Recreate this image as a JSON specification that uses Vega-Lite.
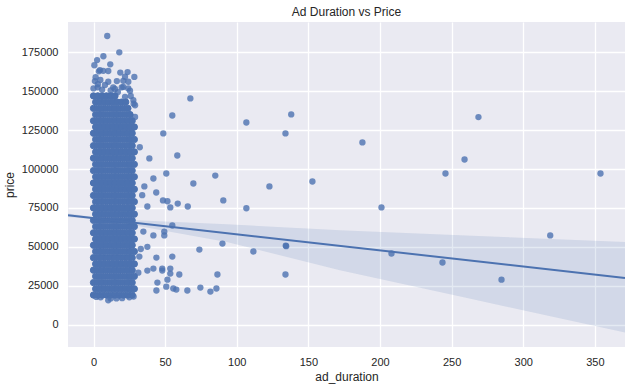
{
"$schema": "https://vega.github.io/schema/vega-lite/v6.json",
"autosize": {"type": "none"},
"padding": {"left": 68, "top": 22, "right": 13, "bottom": 41},
"width": 557,
"height": 325,
"background": "white",
"title": {"text": "Ad Duration vs Price", "fontSize": 12, "font": "Liberation Sans", "fontWeight": "normal", "color": "#262626", "anchor": "middle", "offset": 3},
"config": {
  "view": {"fill": "#EAEAF2", "stroke": null},
  "axis": {"grid": true, "gridColor": "#FFFFFF", "gridWidth": 1.3, "domain": false, "ticks": false, "labelFont": "Liberation Sans", "labelFontSize": 11, "labelColor": "#262626", "titleFont": "Liberation Sans", "titleFontSize": 12, "titleFontWeight": "normal", "titleColor": "#262626"}
},
"datasets": {
  "blob": [
{"ad_duration":0,"price":19000},{"ad_duration":3,"price":19000},{"ad_duration":6,"price":19000},{"ad_duration":9,"price":19000},{"ad_duration":12,"price":19000},{"ad_duration":15,"price":19000},{"ad_duration":18,"price":19000},{"ad_duration":21,"price":19000},{"ad_duration":24,"price":19000},{"ad_duration":27,"price":19000},
{"ad_duration":1.5,"price":23000},{"ad_duration":4.5,"price":23000},{"ad_duration":7.5,"price":23000},{"ad_duration":10.5,"price":23000},{"ad_duration":13.5,"price":23000},{"ad_duration":16.5,"price":23000},{"ad_duration":19.5,"price":23000},{"ad_duration":22.5,"price":23000},{"ad_duration":25.5,"price":23000},{"ad_duration":28.5,"price":23000},
{"ad_duration":0,"price":27000},{"ad_duration":3,"price":27000},{"ad_duration":6,"price":27000},{"ad_duration":9,"price":27000},{"ad_duration":12,"price":27000},{"ad_duration":15,"price":27000},{"ad_duration":18,"price":27000},{"ad_duration":21,"price":27000},{"ad_duration":24,"price":27000},{"ad_duration":27,"price":27000},
{"ad_duration":1.5,"price":31000},{"ad_duration":4.5,"price":31000},{"ad_duration":7.5,"price":31000},{"ad_duration":10.5,"price":31000},{"ad_duration":13.5,"price":31000},{"ad_duration":16.5,"price":31000},{"ad_duration":19.5,"price":31000},{"ad_duration":22.5,"price":31000},{"ad_duration":25.5,"price":31000},{"ad_duration":28.5,"price":31000},
{"ad_duration":0,"price":35000},{"ad_duration":3,"price":35000},{"ad_duration":6,"price":35000},{"ad_duration":9,"price":35000},{"ad_duration":12,"price":35000},{"ad_duration":15,"price":35000},{"ad_duration":18,"price":35000},{"ad_duration":21,"price":35000},{"ad_duration":24,"price":35000},{"ad_duration":27,"price":35000},
{"ad_duration":1.5,"price":39000},{"ad_duration":4.5,"price":39000},{"ad_duration":7.5,"price":39000},{"ad_duration":10.5,"price":39000},{"ad_duration":13.5,"price":39000},{"ad_duration":16.5,"price":39000},{"ad_duration":19.5,"price":39000},{"ad_duration":22.5,"price":39000},{"ad_duration":25.5,"price":39000},{"ad_duration":28.5,"price":39000},
{"ad_duration":0,"price":43000},{"ad_duration":3,"price":43000},{"ad_duration":6,"price":43000},{"ad_duration":9,"price":43000},{"ad_duration":12,"price":43000},{"ad_duration":15,"price":43000},{"ad_duration":18,"price":43000},{"ad_duration":21,"price":43000},{"ad_duration":24,"price":43000},{"ad_duration":27,"price":43000},
{"ad_duration":1.5,"price":47000},{"ad_duration":4.5,"price":47000},{"ad_duration":7.5,"price":47000},{"ad_duration":10.5,"price":47000},{"ad_duration":13.5,"price":47000},{"ad_duration":16.5,"price":47000},{"ad_duration":19.5,"price":47000},{"ad_duration":22.5,"price":47000},{"ad_duration":25.5,"price":47000},{"ad_duration":28.5,"price":47000},
{"ad_duration":0,"price":51000},{"ad_duration":3,"price":51000},{"ad_duration":6,"price":51000},{"ad_duration":9,"price":51000},{"ad_duration":12,"price":51000},{"ad_duration":15,"price":51000},{"ad_duration":18,"price":51000},{"ad_duration":21,"price":51000},{"ad_duration":24,"price":51000},{"ad_duration":27,"price":51000},
{"ad_duration":1.5,"price":55000},{"ad_duration":4.5,"price":55000},{"ad_duration":7.5,"price":55000},{"ad_duration":10.5,"price":55000},{"ad_duration":13.5,"price":55000},{"ad_duration":16.5,"price":55000},{"ad_duration":19.5,"price":55000},{"ad_duration":22.5,"price":55000},{"ad_duration":25.5,"price":55000},{"ad_duration":28.5,"price":55000},
{"ad_duration":0,"price":59000},{"ad_duration":3,"price":59000},{"ad_duration":6,"price":59000},{"ad_duration":9,"price":59000},{"ad_duration":12,"price":59000},{"ad_duration":15,"price":59000},{"ad_duration":18,"price":59000},{"ad_duration":21,"price":59000},{"ad_duration":24,"price":59000},{"ad_duration":27,"price":59000},
{"ad_duration":1.5,"price":63000},{"ad_duration":4.5,"price":63000},{"ad_duration":7.5,"price":63000},{"ad_duration":10.5,"price":63000},{"ad_duration":13.5,"price":63000},{"ad_duration":16.5,"price":63000},{"ad_duration":19.5,"price":63000},{"ad_duration":22.5,"price":63000},{"ad_duration":25.5,"price":63000},{"ad_duration":28.5,"price":63000},
{"ad_duration":0,"price":67000},{"ad_duration":3,"price":67000},{"ad_duration":6,"price":67000},{"ad_duration":9,"price":67000},{"ad_duration":12,"price":67000},{"ad_duration":15,"price":67000},{"ad_duration":18,"price":67000},{"ad_duration":21,"price":67000},{"ad_duration":24,"price":67000},{"ad_duration":27,"price":67000},
{"ad_duration":1.5,"price":71000},{"ad_duration":4.5,"price":71000},{"ad_duration":7.5,"price":71000},{"ad_duration":10.5,"price":71000},{"ad_duration":13.5,"price":71000},{"ad_duration":16.5,"price":71000},{"ad_duration":19.5,"price":71000},{"ad_duration":22.5,"price":71000},{"ad_duration":25.5,"price":71000},{"ad_duration":28.5,"price":71000},
{"ad_duration":0,"price":75000},{"ad_duration":3,"price":75000},{"ad_duration":6,"price":75000},{"ad_duration":9,"price":75000},{"ad_duration":12,"price":75000},{"ad_duration":15,"price":75000},{"ad_duration":18,"price":75000},{"ad_duration":21,"price":75000},{"ad_duration":24,"price":75000},{"ad_duration":27,"price":75000},
{"ad_duration":1.5,"price":79000},{"ad_duration":4.5,"price":79000},{"ad_duration":7.5,"price":79000},{"ad_duration":10.5,"price":79000},{"ad_duration":13.5,"price":79000},{"ad_duration":16.5,"price":79000},{"ad_duration":19.5,"price":79000},{"ad_duration":22.5,"price":79000},{"ad_duration":25.5,"price":79000},{"ad_duration":28.5,"price":79000},
{"ad_duration":0,"price":83000},{"ad_duration":3,"price":83000},{"ad_duration":6,"price":83000},{"ad_duration":9,"price":83000},{"ad_duration":12,"price":83000},{"ad_duration":15,"price":83000},{"ad_duration":18,"price":83000},{"ad_duration":21,"price":83000},{"ad_duration":24,"price":83000},{"ad_duration":27,"price":83000},
{"ad_duration":1.5,"price":87000},{"ad_duration":4.5,"price":87000},{"ad_duration":7.5,"price":87000},{"ad_duration":10.5,"price":87000},{"ad_duration":13.5,"price":87000},{"ad_duration":16.5,"price":87000},{"ad_duration":19.5,"price":87000},{"ad_duration":22.5,"price":87000},{"ad_duration":25.5,"price":87000},{"ad_duration":28.5,"price":87000},
{"ad_duration":0,"price":91000},{"ad_duration":3,"price":91000},{"ad_duration":6,"price":91000},{"ad_duration":9,"price":91000},{"ad_duration":12,"price":91000},{"ad_duration":15,"price":91000},{"ad_duration":18,"price":91000},{"ad_duration":21,"price":91000},{"ad_duration":24,"price":91000},{"ad_duration":27,"price":91000},
{"ad_duration":1.5,"price":95000},{"ad_duration":4.5,"price":95000},{"ad_duration":7.5,"price":95000},{"ad_duration":10.5,"price":95000},{"ad_duration":13.5,"price":95000},{"ad_duration":16.5,"price":95000},{"ad_duration":19.5,"price":95000},{"ad_duration":22.5,"price":95000},{"ad_duration":25.5,"price":95000},{"ad_duration":28.5,"price":95000},
{"ad_duration":0,"price":99000},{"ad_duration":3,"price":99000},{"ad_duration":6,"price":99000},{"ad_duration":9,"price":99000},{"ad_duration":12,"price":99000},{"ad_duration":15,"price":99000},{"ad_duration":18,"price":99000},{"ad_duration":21,"price":99000},{"ad_duration":24,"price":99000},{"ad_duration":27,"price":99000},
{"ad_duration":1.5,"price":103000},{"ad_duration":4.5,"price":103000},{"ad_duration":7.5,"price":103000},{"ad_duration":10.5,"price":103000},{"ad_duration":13.5,"price":103000},{"ad_duration":16.5,"price":103000},{"ad_duration":19.5,"price":103000},{"ad_duration":22.5,"price":103000},{"ad_duration":25.5,"price":103000},{"ad_duration":28.5,"price":103000},
{"ad_duration":0,"price":107000},{"ad_duration":3,"price":107000},{"ad_duration":6,"price":107000},{"ad_duration":9,"price":107000},{"ad_duration":12,"price":107000},{"ad_duration":15,"price":107000},{"ad_duration":18,"price":107000},{"ad_duration":21,"price":107000},{"ad_duration":24,"price":107000},{"ad_duration":27,"price":107000},
{"ad_duration":1.5,"price":111000},{"ad_duration":4.5,"price":111000},{"ad_duration":7.5,"price":111000},{"ad_duration":10.5,"price":111000},{"ad_duration":13.5,"price":111000},{"ad_duration":16.5,"price":111000},{"ad_duration":19.5,"price":111000},{"ad_duration":22.5,"price":111000},{"ad_duration":25.5,"price":111000},{"ad_duration":28.5,"price":111000},
{"ad_duration":0,"price":115000},{"ad_duration":3,"price":115000},{"ad_duration":6,"price":115000},{"ad_duration":9,"price":115000},{"ad_duration":12,"price":115000},{"ad_duration":15,"price":115000},{"ad_duration":18,"price":115000},{"ad_duration":21,"price":115000},{"ad_duration":24,"price":115000},{"ad_duration":27,"price":115000},
{"ad_duration":1.5,"price":119000},{"ad_duration":4.5,"price":119000},{"ad_duration":7.5,"price":119000},{"ad_duration":10.5,"price":119000},{"ad_duration":13.5,"price":119000},{"ad_duration":16.5,"price":119000},{"ad_duration":19.5,"price":119000},{"ad_duration":22.5,"price":119000},{"ad_duration":25.5,"price":119000},{"ad_duration":28.5,"price":119000},
{"ad_duration":0,"price":123000},{"ad_duration":3,"price":123000},{"ad_duration":6,"price":123000},{"ad_duration":9,"price":123000},{"ad_duration":12,"price":123000},{"ad_duration":15,"price":123000},{"ad_duration":18,"price":123000},{"ad_duration":21,"price":123000},{"ad_duration":24,"price":123000},{"ad_duration":27,"price":123000},
{"ad_duration":1.5,"price":127000},{"ad_duration":4.5,"price":127000},{"ad_duration":7.5,"price":127000},{"ad_duration":10.5,"price":127000},{"ad_duration":13.5,"price":127000},{"ad_duration":16.5,"price":127000},{"ad_duration":19.5,"price":127000},{"ad_duration":22.5,"price":127000},{"ad_duration":25.5,"price":127000},{"ad_duration":28.5,"price":127000},
{"ad_duration":0,"price":131000},{"ad_duration":3,"price":131000},{"ad_duration":6,"price":131000},{"ad_duration":9,"price":131000},{"ad_duration":12,"price":131000},{"ad_duration":15,"price":131000},{"ad_duration":18,"price":131000},{"ad_duration":21,"price":131000},{"ad_duration":24,"price":131000},{"ad_duration":27,"price":131000},
{"ad_duration":1.5,"price":135000},{"ad_duration":4.5,"price":135000},{"ad_duration":7.5,"price":135000},{"ad_duration":10.5,"price":135000},{"ad_duration":13.5,"price":135000},{"ad_duration":16.5,"price":135000},{"ad_duration":19.5,"price":135000},{"ad_duration":22.5,"price":135000},{"ad_duration":25.5,"price":135000},
{"ad_duration":0,"price":139000},{"ad_duration":3,"price":139000},{"ad_duration":6,"price":139000},{"ad_duration":9,"price":139000},{"ad_duration":12,"price":139000},{"ad_duration":15,"price":139000},{"ad_duration":18,"price":139000},{"ad_duration":21,"price":139000},{"ad_duration":24,"price":139000},
{"ad_duration":1.5,"price":143000},{"ad_duration":4.5,"price":143000},{"ad_duration":7.5,"price":143000},{"ad_duration":10.5,"price":143000},{"ad_duration":13.5,"price":143000},{"ad_duration":16.5,"price":143000},{"ad_duration":19.5,"price":143000},{"ad_duration":22.5,"price":143000},
{"ad_duration":0,"price":147000},{"ad_duration":3,"price":147000},{"ad_duration":6,"price":147000},{"ad_duration":9,"price":147000},{"ad_duration":12,"price":147000},{"ad_duration":15,"price":147000}
  ],
  "pts": [
{"ad_duration":5,"price":17500},{"ad_duration":10.3,"price":15600},{"ad_duration":12,"price":16800},{"ad_duration":20,"price":17000},{"ad_duration":25,"price":17500},{"ad_duration":2,"price":17800},{"ad_duration":28,"price":18000},{"ad_duration":16,"price":16800},
{"ad_duration":9.6,"price":185500},{"ad_duration":18,"price":175000},{"ad_duration":6.9,"price":172500},{"ad_duration":2.5,"price":170000},{"ad_duration":0.6,"price":166700},{"ad_duration":11.7,"price":167300},{"ad_duration":4.5,"price":163600},{"ad_duration":10.3,"price":163000},{"ad_duration":18.7,"price":162000},{"ad_duration":23.8,"price":162300},{"ad_duration":28.5,"price":159200},{"ad_duration":22,"price":159300},{"ad_duration":3.8,"price":162800},{"ad_duration":6.8,"price":163100},
{"ad_duration":1,"price":156500},{"ad_duration":4.8,"price":157200},{"ad_duration":10.3,"price":156100},{"ad_duration":16.3,"price":156500},{"ad_duration":20.8,"price":156700},{"ad_duration":24.3,"price":156100},{"ad_duration":0,"price":151800},{"ad_duration":20.8,"price":152800},{"ad_duration":24.3,"price":151800},{"ad_duration":2.9,"price":152500},{"ad_duration":13.8,"price":152500},{"ad_duration":19.7,"price":152500},{"ad_duration":25.5,"price":150300},{"ad_duration":27.8,"price":144300},{"ad_duration":22,"price":146400},{"ad_duration":29,"price":141000},{"ad_duration":29,"price":133500},
{"ad_duration":1.5,"price":159000},{"ad_duration":3,"price":154500},{"ad_duration":6,"price":151000},{"ad_duration":8,"price":154000},{"ad_duration":12,"price":150500},{"ad_duration":15,"price":151500},{"ad_duration":17,"price":149500},{"ad_duration":26,"price":147000},{"ad_duration":28,"price":142000},{"ad_duration":31.3,"price":33400},
{"ad_duration":67.6,"price":145400},{"ad_duration":55,"price":134400},{"ad_duration":138,"price":135100},{"ad_duration":106.7,"price":129900},{"ad_duration":48.7,"price":122900},{"ad_duration":134,"price":122900},{"ad_duration":32.3,"price":114000},{"ad_duration":58.5,"price":108700},{"ad_duration":39,"price":106800},{"ad_duration":50.8,"price":97100},{"ad_duration":85,"price":95800},{"ad_duration":41.8,"price":93900},{"ad_duration":69.7,"price":90700},{"ad_duration":122.8,"price":88800},{"ad_duration":152.8,"price":92000},{"ad_duration":35.5,"price":88800},{"ad_duration":43.8,"price":84900},{"ad_duration":34,"price":83200},
{"ad_duration":90.6,"price":79800},{"ad_duration":48.5,"price":79800},{"ad_duration":51.6,"price":79300},{"ad_duration":58.8,"price":77800},{"ad_duration":53.6,"price":75300},{"ad_duration":37.6,"price":75900},{"ad_duration":65.8,"price":75900},{"ad_duration":106.7,"price":74800},{"ad_duration":55,"price":63700},{"ad_duration":34.8,"price":59800},{"ad_duration":49.4,"price":59800},{"ad_duration":41.8,"price":57300},{"ad_duration":49.4,"price":57300},{"ad_duration":90,"price":52100},{"ad_duration":37.6,"price":50000},{"ad_duration":134.2,"price":50800},{"ad_duration":134.5,"price":50400},{"ad_duration":73.9,"price":48200},{"ad_duration":111.6,"price":47000},{"ad_duration":33,"price":48600},
{"ad_duration":43.9,"price":43100},{"ad_duration":55,"price":43700},{"ad_duration":32,"price":43700},{"ad_duration":37.6,"price":34700},{"ad_duration":41.8,"price":36000},{"ad_duration":48,"price":36000},{"ad_duration":48,"price":34700},{"ad_duration":53.6,"price":36000},{"ad_duration":53.6,"price":32800},{"ad_duration":59.9,"price":32200},{"ad_duration":86.5,"price":32200},{"ad_duration":134,"price":32200},{"ad_duration":44.6,"price":27000},{"ad_duration":51.6,"price":28900},{"ad_duration":43.9,"price":21900},{"ad_duration":50.8,"price":24400},{"ad_duration":55.7,"price":23200},{"ad_duration":57.8,"price":22500},{"ad_duration":65.5,"price":21900},{"ad_duration":74.6,"price":23800},{"ad_duration":81.6,"price":21200},{"ad_duration":85.8,"price":23200},
{"ad_duration":187.7,"price":117100},{"ad_duration":201,"price":75300},{"ad_duration":208,"price":45700},{"ad_duration":245.7,"price":97100},{"ad_duration":243.6,"price":39900},{"ad_duration":259,"price":106100},{"ad_duration":268.7,"price":133400},{"ad_duration":284.8,"price":28900},{"ad_duration":318.8,"price":57300},{"ad_duration":353.9,"price":97100}
  ],
  "fit": [
    {"ad_duration": -17.8, "price": 70300},
    {"ad_duration": 371, "price": 29980}
  ],
  "ci": [
    {"ad_duration": -17.8, "lo": 69200, "hi": 71400},
    {"ad_duration": 10, "lo": 66950, "hi": 67800},
    {"ad_duration": 93, "lo": 53140, "hi": 64530},
    {"ad_duration": 172, "lo": 34930, "hi": 60660},
    {"ad_duration": 260, "lo": 17240, "hi": 57330},
    {"ad_duration": 371, "lo": -5150, "hi": 53140}
  ]
},
"encoding": {
  "x": {"field": "ad_duration", "type": "quantitative", "title": "ad_duration", "scale": {"domain": [-17.8, 371], "nice": false, "zero": false}, "axis": {"values": [0, 50, 100, 150, 200, 250, 300, 350], "labelPadding": 9, "titlePadding": 4}}
},
"layer": [
  {
    "data": {"name": "blob"},
    "mark": {"type": "circle", "size": 40, "color": "#4C72B0", "opacity": 1, "stroke": "#4C72B0", "strokeWidth": 1},
    "encoding": {
      "y": {"field": "price", "type": "quantitative", "title": "price", "scale": {"domain": [-14400, 194500], "nice": false, "zero": false}, "axis": {"values": [0, 25000, 50000, 75000, 100000, 125000, 150000, 175000], "format": "d", "labelPadding": 10, "titlePadding": 5}}
    }
  },
  {
    "data": {"name": "pts"},
    "mark": {"type": "circle", "size": 40, "color": "#4C72B0", "opacity": 0.8},
    "encoding": {
      "y": {"field": "price", "type": "quantitative"}
    }
  },
  {
    "data": {"name": "ci"},
    "mark": {"type": "area", "color": "#4C72B0", "opacity": 0.15, "clip": true},
    "encoding": {
      "y": {"field": "lo", "type": "quantitative"},
      "y2": {"field": "hi"}
    }
  },
  {
    "data": {"name": "fit"},
    "mark": {"type": "line", "color": "#4C72B0", "strokeWidth": 2, "clip": true},
    "encoding": {
      "y": {"field": "price", "type": "quantitative"}
    }
  }
]
}
